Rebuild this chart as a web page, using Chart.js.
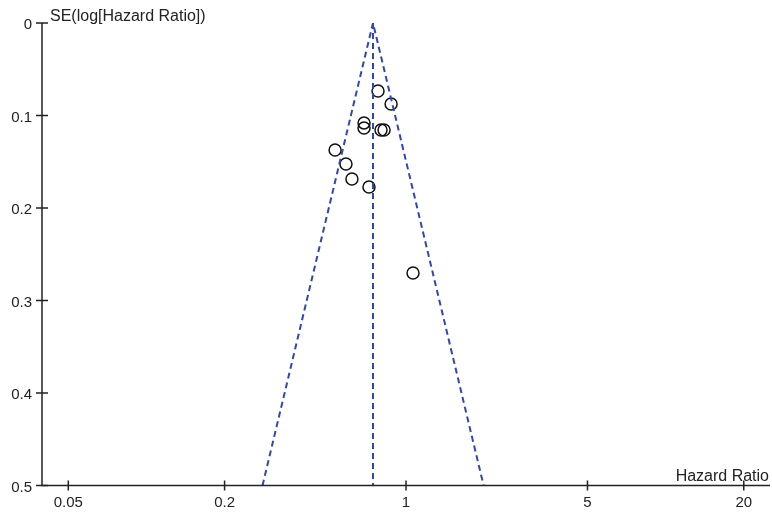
<!DOCTYPE html>
<html>
<head>
<meta charset="utf-8">
<script src="https://cdn.jsdelivr.net/npm/chart.js@4/dist/chart.umd.min.js"></script>
<style>
  html, body { margin: 0; padding: 0; background: #ffffff; }
  #wrap { width: 772px; height: 514px; position: relative; }
</style>
</head>
<body>
<div id="wrap"><canvas id="funnel"></canvas></div>
<script>
// study estimates
const hrValues = [0.78, 0.876, 0.689, 0.689, 0.801, 0.823, 0.533, 0.587, 0.619, 0.72, 1.064];
const seValues = [0.0735, 0.0876, 0.108, 0.1135, 0.1157, 0.1157, 0.1373, 0.1524, 0.1686, 0.1773, 0.2703];

// funnel (pooled estimate and 95% limits at the base)
const pooledHR = 0.746;
const funnelLowerHR = 0.28;
const funnelUpperHR = 1.99;
const funnelBaseSE = 0.5;

const xTickValues = [0.05, 0.2, 1, 5, 20];
const yTickValues = [0, 0.1, 0.2, 0.3, 0.4, 0.5];

const FONT = "'Liberation Sans', Arial, sans-serif";
const INK = '#222222';
const FUNNEL_BLUE = '#2f46b8';

// axis lines, crossing tick marks and the two axis titles
const axesPlugin = {
  id: 'axesPlugin',
  afterDraw(chart) {
    const { ctx, chartArea, scales } = chart;
    const x = scales.x, y = scales.y;
    ctx.save();
    ctx.strokeStyle = INK;
    ctx.lineWidth = 1.5;
    ctx.beginPath();
    ctx.moveTo(chartArea.left, chartArea.top);
    ctx.lineTo(chartArea.left, chartArea.bottom);
    ctx.lineTo(chartArea.right, chartArea.bottom);
    ctx.stroke();

    ctx.beginPath();
    yTickValues.forEach(v => {
      const py = y.getPixelForValue(v);
      ctx.moveTo(chartArea.left - 6, py);
      ctx.lineTo(chartArea.left + 6, py);
    });
    xTickValues.forEach(v => {
      const px = x.getPixelForValue(v);
      ctx.moveTo(px, chartArea.bottom - 5);
      ctx.lineTo(px, chartArea.bottom + 5);
    });
    ctx.stroke();

    ctx.fillStyle = INK;
    ctx.font = '16px ' + FONT;
    ctx.textBaseline = 'alphabetic';
    ctx.textAlign = 'left';
    ctx.fillText('SE(log[Hazard Ratio])', 50, 21);
    ctx.textAlign = 'right';
    ctx.fillText('Hazard Ratio', 769, 481);
    ctx.restore();
  }
};

const studies = hrValues.map((hr, i) => ({ x: hr, y: seValues[i] }));

new Chart(document.getElementById('funnel'), {
  type: 'scatter',
  data: {
    datasets: [
      {
        label: 'Funnel',
        type: 'line',
        data: [
          { x: funnelLowerHR, y: funnelBaseSE },
          { x: pooledHR, y: 0 },
          { x: funnelUpperHR, y: funnelBaseSE }
        ],
        borderColor: FUNNEL_BLUE,
        borderWidth: 2,
        borderDash: [6, 4],
        pointRadius: 0,
        fill: false,
        tension: 0
      },
      {
        label: 'Pooled',
        type: 'line',
        data: [
          { x: pooledHR, y: 0 },
          { x: pooledHR, y: funnelBaseSE }
        ],
        borderColor: FUNNEL_BLUE,
        borderWidth: 2,
        borderDash: [6, 4],
        pointRadius: 0,
        fill: false
      },
      {
        label: 'Studies',
        data: studies,
        pointStyle: 'circle',
        pointRadius: 6,
        borderWidth: 1.5,
        borderColor: '#111111',
        backgroundColor: 'rgba(0,0,0,0)'
      }
    ]
  },
  options: {
    responsive: true,
    maintainAspectRatio: false,
    animation: false,
    layout: { autoPadding: false, padding: { top: 23, right: 2, left: 0, bottom: 0 } },
    plugins: {
      legend: { display: false },
      tooltip: { enabled: false }
    },
    scales: {
      x: {
        type: 'logarithmic',
        min: 0.0396,
        max: 25.24,
        grid: { display: false, drawTicks: false },
        border: { display: false },
        afterBuildTicks: scale => {
          scale.ticks = xTickValues.map(v => ({ value: v }));
        },
        afterFit: scale => {
          scale.height = 28.5;
          scale.paddingLeft = 0;
          scale.paddingRight = 0;
        },
        ticks: {
          autoSkip: false,
          maxRotation: 0,
          padding: 8,
          color: INK,
          font: { family: FONT, size: 15 },
          callback: v => String(v)
        }
      },
      y: {
        type: 'linear',
        reverse: true,
        min: 0,
        max: 0.5,
        grid: { display: false, drawTicks: false },
        border: { display: false },
        afterBuildTicks: scale => {
          scale.ticks = yTickValues.map(v => ({ value: v }));
        },
        afterFit: scale => {
          scale.width = 42;
          scale.paddingTop = 0;
          scale.paddingBottom = 0;
        },
        ticks: {
          padding: 10,
          labelOffset: 2,
          color: INK,
          font: { family: FONT, size: 15 },
          callback: v => String(Math.round(v * 10) / 10)
        }
      }
    }
  },
  plugins: [axesPlugin]
});
</script>
</body>
</html>
